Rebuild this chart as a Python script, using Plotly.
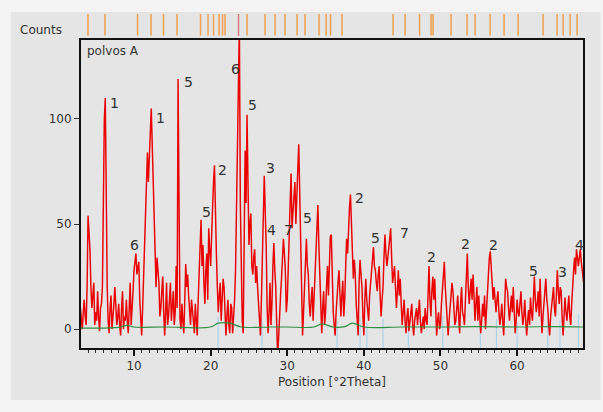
import plotly.graph_objects as go

# ---------------- data ----------------
# scan read at 0.25 degree steps (on-grid) plus the in-between readings (off-grid)
scan_start = 3.0
scan_step = 0.25
counts_grid = [
    10, 0, 14, 2,        # 3
    54, 38, 10, 22,      # 4
    8, 18, -1, 12,       # 5
    80, 110, 20, -2,     # 6
    16, 5, 20, 2,        # 7
    12, -3, 18, 6,       # 8
    14, -2, 22, 8,       # 9
    28, 36, 30, 14,      # 10
    -3, 24, 48, 84,      # 11
    80, 105, 70, 40,     # 12
    34, 22, 10, 25,      # 13
    -3, 22, 6, 22,       # 14
    10, 2, 30, 119,      # 15
    5, 12, -2, 31,       # 16
    26, 8, 14, 4,        # 17
    12, -3, 30, 52,      # 18
    40, 12, 36, 48,      # 19
    30, 62, 78, 36,      # 20
    8, 22, 14, 20,       # 21
    -3, 14, -2, 10,      # 22
    4, 28, 100, 145,     # 23
    20, -2, 85, 102,     # 24
    40, 55, 26, 38,      # 25
    30, 12, -3, 30,      # 26
    73, 40, -2, 22,      # 27
    12, 41, 20, -12,     # 28
    10, 24, 43, 28,      # 29
    14, 40, 74, 56,      # 30
    70, 60, 88, 40,      # 31
    -3, 22, 43, 26,      # 32
    6, 20, 14, 36,       # 33
    59, 22, -2, 18,      # 34
    8, 30, 38, 45,       # 35
    8, -3, 18, 28,       # 36
    6, 23, 14, 43,       # 37
    50, 64, 38, 33,      # 38
    12, -3, 33, 20,      # 39
    -3, 24, 10, 16,      # 40
    28, 39, 28, 18,      # 41
    30, 6, 20, 45,       # 42
    30, 38, 48, 22,      # 43
    30, 10, 28, 24,      # 44
    2, 14, -2, 10,       # 45
    3, 12, -3, 8,        # 46
    2, 14, -2, 6,        # 47
    10, 2, 30, 6,        # 48
    25, 24, -3, 8,       # 49
    2, 21, 32, 12,       # 50
    -3, 10, 22, 12,      # 51
    4, 16, -2, 20,       # 52
    6, 14, 36, 12,       # 53
    24, 26, 4, 20,       # 54
    16, -2, 12, 16,      # 55
    8, 30, 37, 26,       # 56
    20, 8, 18, 2,        # 57
    12, -3, 24, 18,      # 58
    4, 16, 20, -2,       # 59
    14, 6, 18, 2,        # 60
    14, -3, 9, 15,       # 61
    4, 25, 8, 18,        # 62
    24, -2, 14, 24,      # 63
    10, -3, 12, 20,      # 64
    6, 28, 12, 18,       # 65
    -3, 15, 4, 16,       # 66
    2, 22, 34, 38,       # 67
    30, 38, 28, 20,      # 68
]
counts_mid = [
    4, 8, 6, 20,         # 3
    46, 20, 16, 2,       # 4
    4, 6, 10, 20,        # 5
    100, 60, 4, 10,      # 6
    0, 12, 8, 6,         # 7
    2, 10, 0, 4,         # 8
    4, 10, 2, 18,        # 9
    34, 26, 32, 4,       # 10
    10, 34, 62, 70,      # 11
    95, 88, 52, 20,      # 12
    26, 6, 18, 8,        # 13
    8, 2, 14, 4,         # 14
    18, 8, 10, 40,       # 15
    0, 4, 14, 20,        # 16
    16, 2, 10, -2,       # 17
    4, 14, 42, 30,       # 18
    22, 28, 14, 38,      # 19
    44, 70, 50, 20,      # 20
    16, 4, 24, 8,        # 21
    6, 2, 12, -2,        # 22
    14, 60, 120, 60,     # 23
    4, 40, 60, 70,       # 24
    50, 30, 34, 22,      # 25
    20, 2, 14, 50,       # 26
    56, 10, 8, 2,        # 27
    30, 28, 2, -4,       # 28
    16, 34, 36, 8,       # 29
    28, 60, 48, 64,      # 30
    50, 76, 66, 10,      # 31
    8, 34, 30, 12,       # 32
    14, 4, 26, 46,       # 33
    40, 6, 10, 2,        # 34
    20, 16, 44, 24,      # 35
    2, 8, 22, 14,        # 36
    16, 6, 30, 36,       # 37
    58, 46, 24, 26,      # 38
    2, 22, 26, 6,        # 39
    14, 14, 4, 22,       # 40
    34, 30, 22, 26,      # 41
    16, 14, 34, 36,      # 42
    34, 44, 34, 26,      # 43
    20, 18, 16, 12,      # 44
    8, 4, 6, -1,         # 45
    8, 2, 4, 10,         # 46
    8, 4, 2, 0,          # 47
    4, 16, 14, 18,       # 48
    14, 10, 4, 0,        # 49
    12, 26, 20, 4,       # 50
    4, 16, 18, 2,        # 51
    10, 6, 12, 8,        # 52
    2, 26, 20, 18,       # 53
    14, 16, 12, 4,       # 54
    6, 4, 6, 0,          # 55
    18, 34, 30, 14,      # 56
    12, 14, 8, 6,        # 57
    4, 10, 20, 10,       # 58
    10, 8, 8, 4,         # 59
    8, 12, 8, 6,         # 60
    4, 4, 2, 8,          # 61
    14, 14, 12, 6,       # 62
    10, 6, 18, 14,       # 63
    2, 6, 14, 10,        # 64
    16, 18, 20, 6,       # 65
    6, 8, 10, 6,         # 66
    12, 28, 26, 34,      # 67
    34, 32, 24, 22,      # 68
]

two_theta, counts = [], []
for i, (a, b) in enumerate(zip(counts_grid, counts_mid)):
    two_theta += [scan_start + scan_step * i, scan_start + scan_step * i + scan_step / 2]
    counts += [a, b]

bg_x = [3, 8, 9, 10, 14, 20, 21, 22.5, 24, 28, 30, 33.5, 34.5, 36, 37.5, 38.5, 40, 45, 50, 55, 60, 65, 68.6]
bg_y = [0.5, 0.8, 1.8, 1.0, 1.0, 1.0, 2.8, 2.8, 1.0, 1.0, 1.0, 1.0, 2.5, 1.0, 1.2, 2.8, 1.0, 1.0, 1.0, 1.2, 1.0, 1.2, 1.0]

ref_top = [3.99, 6.21, 10.46, 12.22, 13.85, 15.61, 18.68, 19.66, 20.38, 21.10, 21.55, 21.88,
           24.75, 27.10, 28.41, 29.71, 31.28, 32.32, 34.15, 35.07, 35.65, 37.15,
           43.81, 45.38, 47.27, 48.77, 49.03, 51.38, 53.47, 54.52, 56.48, 58.30, 60.13,
           63.39, 65.22, 66.01, 66.92, 67.83]
ref_top_strong = [23.64]

ref_bottom = [20.97, 26.7, 28.67, 36.5, 39.5, 40.4, 42.5, 45.8, 50.3, 55.2, 57.3, 60.0, 64.0, 65.6, 68.0]
ref_bottom_h = [6, 4, 5, 4, 6, 3, 5, 3, 6, 4, 5, 3, 5, 4, 7]

label_x = [7.5, 13.5, 17.05, 23.3, 25.4, 10.1, 19.4, 21.6, 27.75, 28.0, 30.1, 32.6,
           39.4, 41.5, 45.25, 48.8, 53.2, 56.9, 62.1, 65.9, 68.2]
label_y = [107.6, 100.5, 117.6, 123.8, 106.7, 40, 55.7, 75.7, 76.7, 47, 47, 53,
           62.4, 43.3, 45.7, 34.3, 40.5, 40, 27.6, 27, 40]
label_text = ["1", "1", "5", "6", "5", "6", "5", "2", "3", "4", "7", "5",
              "2", "5", "7", "2", "2", "2", "5", "3", "4"]

x_range = [3.08, 68.6]
y_range = [-9, 137.6]

FONT = "DejaVu Sans"
TXT = "#333333"

fig = go.Figure()

# reference sticks at the bottom
bx, by = [], []
for t, h in zip(ref_bottom, ref_bottom_h):
    bx += [t, t, None]
    by += [y_range[0], h, None]
fig.add_trace(go.Scatter(x=bx, y=by, mode="lines",
                         line=dict(color="#9fd0ee", width=1), hoverinfo="skip", showlegend=False))

# pattern
fig.add_trace(go.Scatter(x=two_theta, y=counts, mode="lines",
                         line=dict(color="rgb(235,0,0)", width=1.45), showlegend=False))

# background
fig.add_trace(go.Scatter(x=bg_x, y=bg_y, mode="lines",
                         line=dict(color="#2f8f3f", width=1.2, shape="spline"), showlegend=False))

# top strip reference marks
tx, ty = [], []
for t in ref_top:
    tx += [t, t, None]
    ty += [0, 1, None]
fig.add_trace(go.Scatter(x=tx, y=ty, mode="lines", xaxis="x", yaxis="y2",
                         line=dict(color="#f0a050", width=1.5), hoverinfo="skip", showlegend=False))
sx, sy = [], []
for t in ref_top_strong:
    sx += [t, t, None]
    sy += [-0.3, 1, None]
fig.add_trace(go.Scatter(x=sx, y=sy, mode="lines", xaxis="x", yaxis="y2",
                         line=dict(color="#d87a80", width=1.5), hoverinfo="skip", showlegend=False))

for lx, ly, lt in zip(label_x, label_y, label_text):
    fig.add_annotation(x=lx, y=ly, text=lt, showarrow=False, xref="x", yref="y",
                       font=dict(family=FONT, size=14, color=TXT))

fig.add_annotation(x=-0.125, y=0.945, xref="paper", yref="paper", text="Counts",
                   showarrow=False, xanchor="left", yanchor="middle",
                   font=dict(family=FONT, size=12, color=TXT))
fig.add_annotation(x=0.008, y=0.885, xref="paper", yref="paper", text="polvos A",
                   showarrow=False, xanchor="left", yanchor="middle",
                   font=dict(family=FONT, size=12, color=TXT))

# panel background
fig.add_shape(type="rect", xref="paper", yref="paper", x0=-0.14, x1=1.035, y0=-0.155, y1=1.0,
              fillcolor="#e5e5e5", line=dict(width=0), layer="below")

fig.update_layout(
    width=603, height=412,
    margin=dict(l=81, r=20, t=12, b=64),
    paper_bgcolor="#f4f4f4",
    plot_bgcolor="rgba(0,0,0,0)",
    font=dict(family=FONT, size=12, color=TXT),
    xaxis=dict(range=x_range, anchor="y", showline=True, linecolor="#111111", linewidth=2,
               mirror=True, showgrid=False, zeroline=False,
               ticks="outside", ticklen=6, tickwidth=1.5, tickcolor="#111111",
               tick0=0, dtick=10,
               minor=dict(ticks="outside", dtick=1, ticklen=3, tickcolor="#333333", tickwidth=1),
               tickfont=dict(family=FONT, size=12, color=TXT),
               title=dict(text="Position [°2Theta]", standoff=5,
                          font=dict(family=FONT, size=12, color=TXT))),
    yaxis=dict(range=y_range, domain=[0, 0.9167], showline=True, linecolor="#111111", linewidth=2,
               mirror=True, showgrid=False, zeroline=False,
               ticks="outside", ticklen=5, tickwidth=1.2, tickcolor="#333333",
               tickvals=[0, 50, 100], tickfont=dict(family=FONT, size=12, color=TXT)),
    yaxis2=dict(range=[0, 1], domain=[0.929, 0.994], anchor="x", visible=False,
                showgrid=False, zeroline=False),
)

fig.write_html("out.html")
